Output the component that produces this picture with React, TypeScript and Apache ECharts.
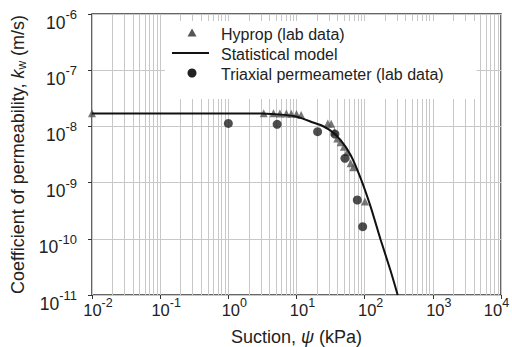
import React, { useEffect, useRef } from "react";
import * as echarts from "echarts";

// Hyprop (lab data)
const hypropSuction = [0.01, 3.3, 4.6, 5.7, 7.1, 8.4, 10.0, 11.7, 28.8, 32.3, 36.1, 39.6, 44.4, 49.6, 55.7, 62.2, 68, 101];
const hypropK = [1.72e-8, 1.72e-8, 1.72e-8, 1.7e-8, 1.7e-8, 1.68e-8, 1.66e-8, 1.6e-8, 1.13e-8, 1.12e-8, 8e-9, 6.1e-9, 5.2e-9, 4.35e-9, 3.5e-9, 2.2e-9, 1.87e-9, 4.6e-10];

// Triaxial permeameter (lab data)
const triaxSuction = [1.0, 5.2, 20.4, 36.6, 51.4, 78, 93.5];
const triaxK = [1.13e-8, 1.09e-8, 8.05e-9, 7.3e-9, 2.7e-9, 4.9e-10, 1.64e-10];

// Statistical model
const modelSuction = [0.01, 0.1, 1, 3, 6, 10.2, 18, 22.5, 31.6, 44.4, 62.2, 87.4, 122.5, 172, 240, 305];
const modelK = [1.7e-8, 1.7e-8, 1.7e-8, 1.69e-8, 1.62e-8, 1.49e-8, 1.16e-8, 1.06e-8, 8.4e-9, 5.7e-9, 3.1e-9, 1.19e-9, 3.7e-10, 9.5e-11, 2.7e-11, 1e-11];

const xDecades = [-2, -1, 0, 1, 2, 3];
const minorMultipliers = [2, 3, 4, 5, 6, 7, 8, 9];

const seriesNames = ["Hyprop (lab data)", "Statistical model", "Triaxial permeameter (lab data)"];

const FONT = "'Liberation Sans', Arial, Helvetica, sans-serif";
const TXT = "#222";

export default function App() {
  const ref = useRef<HTMLDivElement>(null);
  useEffect(() => {
    if (!ref.current) return;
    const chart = echarts.init(ref.current, undefined, { renderer: "svg" });
    const minorLines: any[] = [];
    xDecades.forEach((d) => {
      minorMultipliers.forEach((m) => {
        minorLines.push({ xAxis: m * Math.pow(10, d) });
      });
    });
    const yFmt = (v: number) => {
      const e = Math.round(Math.log10(v));
      return "{b|10}{s|" + e + "}";
    };
    const xFmt = (v: number) => {
      const e = Math.round(Math.log10(v));
      if (e >= 4) return "{bm|10}{sm|" + e + "}";
      return "{b|10}{s|" + e + "}";
    };
    const hiddenIcon = { icon: "rect", itemStyle: { opacity: 0 }, lineStyle: { opacity: 0 } };
    chart.setOption({
      animation: false,
      textStyle: { fontFamily: FONT },
      grid: {
        left: 92,
        right: 11,
        top: 14,
        bottom: 52,
        containLabel: false,
        outerBoundsMode: "none",
        show: true,
        borderColor: "#333",
        borderWidth: 1.5,
        backgroundColor: "transparent",
      },
      legend: {
        data: seriesNames.map((n) => ({ name: n, ...hiddenIcon })),
        orient: "vertical",
        left: 165,
        top: 21,
        itemWidth: 38,
        itemHeight: 10,
        itemGap: 4,
        padding: [5, 33, 17, 7],
        backgroundColor: "#fff",
        textStyle: { fontFamily: FONT, fontSize: 16, color: TXT, padding: [0, 0, 0, 6] },
        selectedMode: false,
        z: 4,
      },
      graphic: [
        {
          type: "polygon",
          z: 10,
          shape: { points: [[192, 28.5], [196.5, 36.5], [187.5, 36.5]] },
          style: { fill: "#555" },
        },
        {
          type: "line",
          z: 10,
          shape: { x1: 172, y1: 53, x2: 209, y2: 53 },
          style: { stroke: "#111", lineWidth: 2 },
        },
        {
          type: "circle",
          z: 10,
          shape: { cx: 192, cy: 73, r: 4.5 },
          style: { fill: "#222" },
        },
      ],
      xAxis: {
        type: "log",
        logBase: 10,
        min: 0.01,
        max: 10000,
        splitNumber: 6,
        name: "Suction, {i|ψ} (kPa)",
        nameLocation: "middle",
        nameGap: 33,
        nameTextStyle: {
          fontFamily: FONT,
          fontSize: 18,
          color: TXT,
          rich: { i: { fontStyle: "italic", fontSize: 18, fontFamily: FONT, color: TXT } },
        },
        axisLine: { show: false },
        axisTick: { show: true, inside: false, length: 4, lineStyle: { color: "#333" } },
        splitLine: { show: true, lineStyle: { color: "#c8c8c8", width: 1 } },
        axisLabel: {
          formatter: xFmt,
          margin: 4,
          color: TXT,
          rich: {
            b: { fontSize: 16.5, lineHeight: 17, padding: [5, 0, 0, 12], fontFamily: FONT, color: TXT },
            s: { fontSize: 12.5, lineHeight: 13, padding: [0, 0, 9, 0], fontFamily: FONT, color: TXT },
            bm: { fontSize: 16.5, lineHeight: 17, padding: [5, 0, 0, 0], fontFamily: FONT, color: TXT },
            sm: { fontSize: 12.5, lineHeight: 13, padding: [0, 9, 9, 0], fontFamily: FONT, color: TXT },
          },
        },
      },
      yAxis: {
        type: "log",
        logBase: 10,
        min: 1e-11,
        max: 1e-6,
        splitNumber: 5,
        name: "Coefficient of permeability, {i|k}{sub|w} (m/s)",
        nameLocation: "middle",
        nameGap: 56,
        nameTextStyle: {
          fontFamily: FONT,
          fontSize: 18,
          color: TXT,
          rich: {
            i: { fontStyle: "italic", fontSize: 18, fontFamily: FONT, color: TXT },
            sub: { fontSize: 12, padding: [8, 0, 0, 0], fontFamily: FONT, color: TXT },
          },
        },
        axisLine: { show: false },
        axisTick: { show: true, inside: false, length: 4, lineStyle: { color: "#333" } },
        splitLine: { show: true, lineStyle: { color: "#c8c8c8", width: 1 } },
        axisLabel: {
          formatter: yFmt,
          margin: 15,
          color: TXT,
          rich: {
            b: { fontSize: 17.5, lineHeight: 17, padding: [17, 0, 0, 0], fontFamily: FONT, color: TXT },
            s: { fontSize: 13, lineHeight: 13, padding: [11, 0, 10, 0], fontFamily: FONT, color: TXT },
          },
        },
      },
      series: [
        {
          name: "minor-grid",
          type: "line",
          z: 1,
          data: [],
          symbol: "none",
          silent: true,
          markLine: {
            z: 1,
            silent: true,
            symbol: "none",
            label: { show: false },
            lineStyle: { color: "#c8c8c8", width: 1, type: "solid" },
            data: minorLines,
          },
        },
        {
          name: seriesNames[0],
          type: "scatter",
          symbol: "triangle",
          symbolSize: 8,
          itemStyle: { color: "#555" },
          data: hypropSuction.map((x, i) => [x, hypropK[i]]),
          z: 3,
        },
        {
          name: seriesNames[1],
          type: "line",
          symbol: "none",
          smooth: 0.2,
          lineStyle: { color: "#111", width: 2 },
          itemStyle: { color: "#111" },
          data: modelSuction.map((x, i) => [x, modelK[i]]),
          z: 4,
        },
        {
          name: seriesNames[2],
          type: "scatter",
          symbol: "circle",
          symbolSize: 9,
          itemStyle: { color: "#222" },
          data: triaxSuction.map((x, i) => [x, triaxK[i]]),
          z: 3,
        },
      ],
    });
    return () => chart.dispose();
  }, []);
  return <div ref={ref} style={{ width: 512, height: 347, position: "absolute", left: 0, top: 0 }} />;
}
